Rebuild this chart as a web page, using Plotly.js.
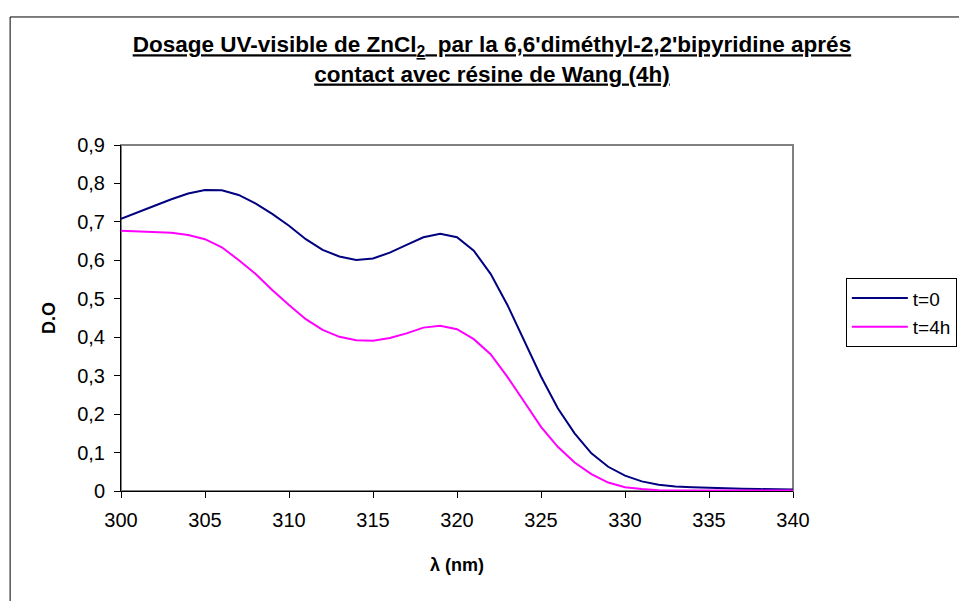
<!DOCTYPE html>
<html>
<head>
<meta charset="utf-8">
<script src="https://cdn.plot.ly/plotly-3.0.1.min.js"></script>
<style>html,body{margin:0;padding:0;background:#fff;}#chart{width:959px;height:601px;}</style>
</head>
<body>
<div id="chart"></div>
<script>
var wavelength = [300,301,302,303,304,305,306,307,308,309,310,311,312,313,314,315,316,317,318,319,320,321,322,323,324,325,326,327,328,329,330,331,332,333,334,335,336,337,338,339,340];
var doT0 = [0.708,0.724,0.742,0.759,0.774,0.783,0.782,0.770,0.748,0.721,0.690,0.655,0.627,0.610,0.601,0.605,0.620,0.640,0.660,0.669,0.660,0.625,0.565,0.484,0.390,0.298,0.215,0.150,0.098,0.063,0.040,0.025,0.016,0.012,0.010,0.008,0.007,0.006,0.005,0.004,0.004];
var doT4h = [0.677,0.675,0.674,0.672,0.666,0.655,0.634,0.601,0.565,0.523,0.484,0.447,0.419,0.401,0.392,0.391,0.398,0.410,0.425,0.430,0.421,0.395,0.356,0.297,0.232,0.167,0.115,0.074,0.044,0.022,0.010,0.005,0.002,0.001,0.001,0.001,0.001,0.001,0.001,0.001,0.001];
var seriesNames = ['t=0','t=4h'];

var font = '"Liberation Sans", Arial, sans-serif';
var traces = [
  {x: wavelength, y: doT0, name: seriesNames[0], type: 'scatter', mode: 'lines', line: {color: '#000080', width: 2}, legendgroup: 'a'},
  {x: wavelength, y: doT4h, name: seriesNames[1], type: 'scatter', mode: 'lines', line: {color: '#FF00FF', width: 2}, legendgroup: 'b'}
];
var layout = {
  width: 959, height: 601,
  margin: {l: 121, r: 166, t: 145, b: 110, autoexpand: false},
  paper_bgcolor: '#fff', plot_bgcolor: '#fff',
  separators: ', ',
  font: {family: font, size: 19, color: '#000'},
  title: {
    text: "<b><u>Dosage UV-visible de ZnCl<sub>2</sub>  par la 6,6'diméthyl-2,2'bipyridine aprés</u></b><br><b><u>contact avec résine de Wang (4h)</u></b>",
    font: {family: font, size: 22.5, color: '#000'},
    x: 0.552, xref: 'paper', xanchor: 'center',
    y: 0.913, yref: 'container', yanchor: 'top'
  },
  xaxis: {
    range: [300, 340], dtick: 5, tick0: 300,
    showgrid: false, zeroline: false,
    showline: true, linecolor: '#000', linewidth: 1,
    ticks: 'outside', ticklen: 6, tickcolor: '#000',
    tickfont: {family: font, size: 20},
    ticklabelstandoff: 5,
    title: {text: '<b>λ (nm)</b>', font: {family: font, size: 18}, standoff: 28}
  },
  yaxis: {
    range: [0, 0.9], dtick: 0.1, tick0: 0,
    showgrid: false, zeroline: false,
    showline: true, linecolor: '#000', linewidth: 1,
    ticks: 'outside', ticklen: 6, tickcolor: '#000',
    tickfont: {family: font, size: 20},
    ticklabelstandoff: 5,
    title: {text: '<b>D.O</b>', font: {family: font, size: 18}, standoff: 16}
  },
  legend: {
    xref: 'container', yref: 'container',
    x: 0.882, y: 0.537, xanchor: 'left', yanchor: 'top',
    bordercolor: '#000', borderwidth: 1, bgcolor: '#fff',
    font: {family: font, size: 19},
    itemwidth: 56,
    traceorder: 'grouped', tracegroupgap: 1
  },
  shapes: [
    {type: 'rect', xref: 'paper', yref: 'paper', x0: 0, x1: 1, y0: 0, y1: 1, line: {color: '#808080', width: 2}, layer: 'below'},
    {type: 'rect', xref: 'paper', yref: 'paper', x0: -0.165, x1: 1.5, y0: -0.5, y1: 1.37, line: {color: '#000', width: 1}, layer: 'below'}
  ],
  showlegend: true
};
Plotly.newPlot('chart', traces, layout, {displayModeBar: false, staticPlot: true});
</script>
</body>
</html>
